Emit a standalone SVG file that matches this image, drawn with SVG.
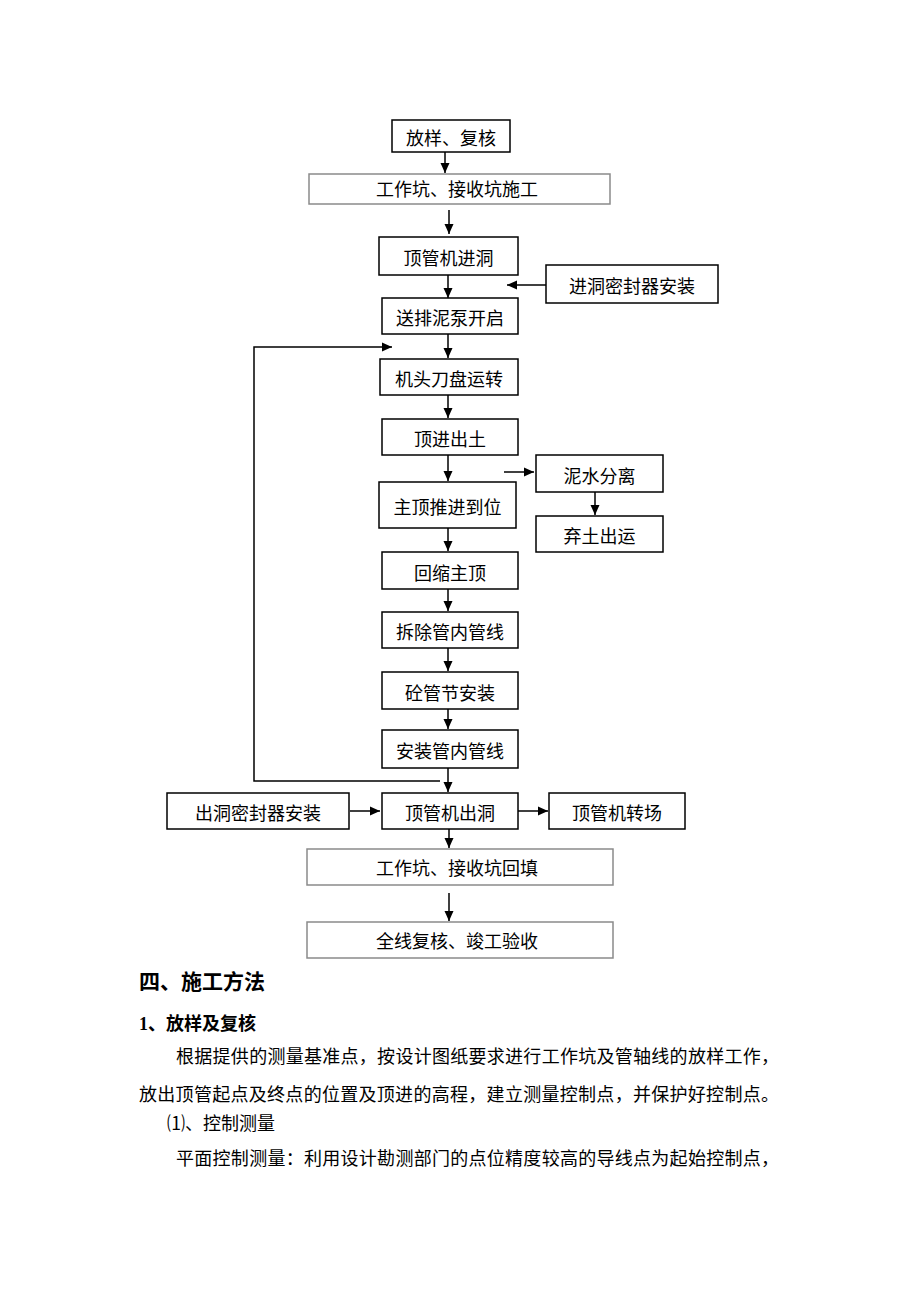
<svg xmlns="http://www.w3.org/2000/svg" width="920" height="1302" viewBox="0 0 920 1302">
<style>
.box{fill:#fff;stroke:#000;stroke-width:1.5}
.gbox{fill:#fff;stroke:#8a8a8a;stroke-width:1.5}
.t{font-family:"Liberation Serif","Noto Sans CJK SC",serif;font-size:18px;fill:#000;text-anchor:middle}
.c{fill:none;stroke:#000;stroke-width:1.5}
.p{font-family:"Liberation Serif","Noto Sans CJK SC",serif;font-size:18px;fill:#000}
.h{font-family:"Liberation Serif","Noto Sans CJK SC",serif;font-weight:bold;fill:#000}
</style>
<defs>
<marker id="ah" markerUnits="userSpaceOnUse" markerWidth="10" markerHeight="10" refX="10" refY="5" orient="auto">
<path d="M0,0.5 L10,5 L0,9.5 z" fill="#000"/>
</marker>
</defs>
<rect width="920" height="1302" fill="#fff"/>
<g id="connectors">
<line class="c" x1="445" y1="152" x2="445" y2="173" marker-end="url(#ah)"/>
<line class="c" x1="449" y1="210" x2="449" y2="234" marker-end="url(#ah)"/>
<line class="c" x1="448" y1="275" x2="448" y2="298" marker-end="url(#ah)"/>
<line class="c" x1="546" y1="285" x2="507" y2="285" marker-end="url(#ah)"/>
<line class="c" x1="448" y1="334" x2="448" y2="358" marker-end="url(#ah)"/>
<polyline class="c" points="440,781 254,781 254,347 392,347" marker-end="url(#ah)"/>
<line class="c" x1="448" y1="395" x2="448" y2="418" marker-end="url(#ah)"/>
<line class="c" x1="448" y1="455" x2="448" y2="481" marker-end="url(#ah)"/>
<line class="c" x1="504" y1="472" x2="534" y2="472" marker-end="url(#ah)"/>
<line class="c" x1="595" y1="492" x2="595" y2="515" marker-end="url(#ah)"/>
<line class="c" x1="448" y1="528" x2="448" y2="551" marker-end="url(#ah)"/>
<line class="c" x1="448" y1="589" x2="448" y2="611" marker-end="url(#ah)"/>
<line class="c" x1="448" y1="648" x2="448" y2="671" marker-end="url(#ah)"/>
<line class="c" x1="448" y1="709" x2="448" y2="729" marker-end="url(#ah)"/>
<line class="c" x1="448" y1="768" x2="448" y2="792" marker-end="url(#ah)"/>
<line class="c" x1="350" y1="811" x2="380" y2="811" marker-end="url(#ah)"/>
<line class="c" x1="518" y1="811" x2="548" y2="811" marker-end="url(#ah)"/>
<line class="c" x1="449" y1="829" x2="449" y2="848" marker-end="url(#ah)"/>
<line class="c" x1="449" y1="893" x2="449" y2="921" marker-end="url(#ah)"/>
</g>
<g id="n1"><rect class="box" x="392" y="120" width="118" height="32"/><text class="t" x="451" y="145">放样、复核</text></g>
<g id="n2"><rect class="gbox" x="309" y="174" width="301" height="30"/><text class="t" x="457" y="196">工作坑、接收坑施工</text></g>
<g id="n3"><rect class="box" x="379" y="237" width="139" height="38"/><text class="t" x="448.5" y="265">顶管机进洞</text></g>
<g id="n4"><rect class="box" x="546" y="265" width="172" height="38"/><text class="t" x="632" y="293">进洞密封器安装</text></g>
<g id="n5"><rect class="box" x="382" y="298" width="136" height="36"/><text class="t" x="450" y="325">送排泥泵开启</text></g>
<g id="n6"><rect class="box" x="380" y="359" width="138" height="36"/><text class="t" x="449" y="386">机头刀盘运转</text></g>
<g id="n7"><rect class="box" x="382" y="419" width="136" height="36"/><text class="t" x="450" y="446">顶进出土</text></g>
<g id="n8"><rect class="box" x="379" y="482" width="137" height="46"/><text class="t" x="447.5" y="514">主顶推进到位</text></g>
<g id="n9"><rect class="box" x="536" y="455" width="127" height="37"/><text class="t" x="599.5" y="483">泥水分离</text></g>
<g id="n10"><rect class="box" x="536" y="516" width="127" height="36"/><text class="t" x="599.5" y="543">弃土出运</text></g>
<g id="n11"><rect class="box" x="382" y="552" width="136" height="37"/><text class="t" x="450" y="580">回缩主顶</text></g>
<g id="n12"><rect class="box" x="382" y="612" width="136" height="36"/><text class="t" x="450" y="639">拆除管内管线</text></g>
<g id="n13"><rect class="box" x="382" y="672" width="136" height="37"/><text class="t" x="450" y="700">砼管节安装</text></g>
<g id="n14"><rect class="box" x="382" y="730" width="136" height="38"/><text class="t" x="450" y="758">安装管内管线</text></g>
<g id="n15"><rect class="box" x="382" y="793" width="136" height="36"/><text class="t" x="450" y="820">顶管机出洞</text></g>
<g id="n16"><rect class="box" x="167" y="793" width="182" height="36"/><text class="t" x="258" y="820">出洞密封器安装</text></g>
<g id="n17"><rect class="box" x="549" y="793" width="136" height="36"/><text class="t" x="617" y="820">顶管机转场</text></g>
<g id="n18"><rect class="gbox" x="307" y="849" width="306" height="36"/><text class="t" x="457" y="875">工作坑、接收坑回填</text></g>
<g id="n19"><rect class="gbox" x="307" y="922" width="306" height="36"/><text class="t" x="457" y="948">全线复核、竣工验收</text></g>
<g id="body">
<text class="h" x="139" y="989" font-size="21">四、施工方法</text>
<text class="h" x="139" y="1030" font-size="18">1、放样及复核</text>
<text class="p" x="176" y="1063" textLength="603" lengthAdjust="spacing">根据提供的测量基准点，按设计图纸要求进行工作坑及管轴线的放样工作，</text>
<text class="p" x="139" y="1101" textLength="640" lengthAdjust="spacing">放出顶管起点及终点的位置及顶进的高程，建立测量控制点，并保护好控制点。</text>
<text class="p" x="167" y="1130">⑴、控制测量</text>
<text class="p" x="176" y="1165" textLength="603" lengthAdjust="spacing">平面控制测量：利用设计勘测部门的点位精度较高的导线点为起始控制点，</text>
</g>
</svg>
